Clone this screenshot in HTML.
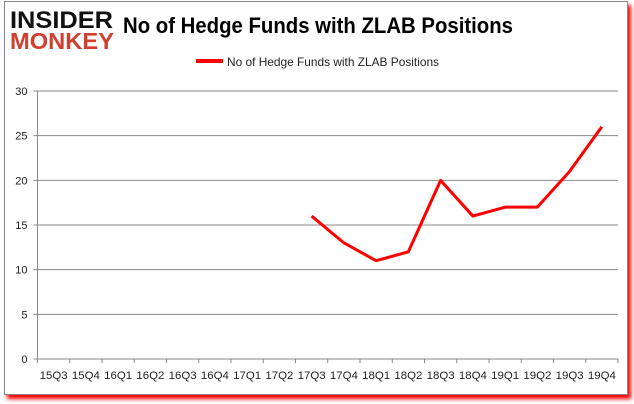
<!DOCTYPE html>
<html><head><meta charset="utf-8"><style>
body{margin:0;background:#fff;width:634px;height:404px;overflow:hidden;font-family:"Liberation Sans",sans-serif}
#frame{position:absolute;left:4px;top:1px;width:622px;height:392px;border:1px solid #888;background:#fff;box-shadow:3px 4px 4px #f00}
</style></head><body>
<div id="frame"></div>
<svg width="634" height="404" style="position:absolute;left:0;top:0">
<text x="10" y="28" font-size="24" font-weight="bold" font-family="Liberation Sans" fill="#111" textLength="103" lengthAdjust="spacingAndGlyphs">INSIDER</text>
<text x="10" y="49" font-size="23" font-weight="bold" font-family="Liberation Sans" fill="#d04030" textLength="104" lengthAdjust="spacingAndGlyphs">MONKEY</text>
<text x="123" y="33" font-size="22" font-weight="bold" fill="#000" textLength="390" lengthAdjust="spacingAndGlyphs">No of Hedge Funds with ZLAB Positions</text>
<line x1="196" y1="61" x2="223" y2="61" stroke="#f00" stroke-width="4"/>
<text x="227" y="66" font-size="12" fill="#222" textLength="212" lengthAdjust="spacingAndGlyphs">No of Hedge Funds with ZLAB Positions</text>
<g id="axes"></g><path id="line" fill="none" stroke="#f00" stroke-width="3" stroke-linejoin="round"/>
</svg>
<script>
const categories=["15Q3","15Q4","16Q1","16Q2","16Q3","16Q4","17Q1","17Q2","17Q3","17Q4","18Q1","18Q2","18Q3","18Q4","19Q1","19Q2","19Q3","19Q4"];
const values=[null,null,null,null,null,null,null,null,16,13,11,12,20,16,17,17,21,26];
const yTicks=[0,5,10,15,20,25,30];
const X0=37.5,X1=618,Y0=359,Y1=91;
const bw=(X1-X0)/categories.length;
const x=i=>X0+bw*(i+0.5), y=v=>Y0-(v/30)*(Y0-Y1);
const g=document.getElementById('axes'),NS="http://www.w3.org/2000/svg";
function mk(t,a){const e=document.createElementNS(NS,t);for(const k in a)e.setAttribute(k,a[k]);g.appendChild(e);return e;}
yTicks.forEach(v=>{
 const l=mk('line',{x1:X0-4,x2:X1,y1:y(v),y2:y(v),stroke:'#888','stroke-width':1});
 
 
 const t=mk('text',{x:X0-10,y:y(v)+4,'text-anchor':'end','font-size':11,fill:'#222'});t.textContent=v;
 
 
});
const ax=mk('line',{x1:X0,x2:X0,y1:Y1,y2:Y0,stroke:'#888'});


categories.forEach((c,i)=>{
 const tk=mk('line',{x1:X0+bw*i,x2:X0+bw*i,y1:Y0,y2:Y0+4,stroke:'#888'});
 
 
 const t=mk('text',{x:x(i),y:Y0+20,'text-anchor':'middle','font-size':11,fill:'#222',textLength:28,lengthAdjust:'spacingAndGlyphs'});t.textContent=c;
 
 
});
const tk=mk('line',{x1:X1,x2:X1,y1:Y0,y2:Y0+4,stroke:'#888'});


let d='';values.forEach((v,i)=>{if(v==null)return;d+=(d?'L':'M')+x(i)+','+y(v);});
document.getElementById('line').setAttribute('d',d);
</script>
</body></html>
